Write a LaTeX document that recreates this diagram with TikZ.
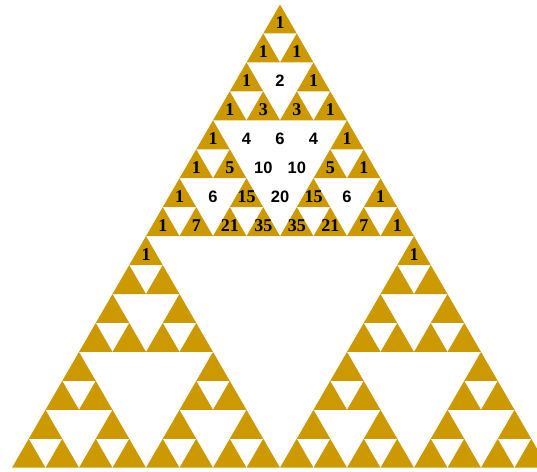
\documentclass[tikz,border=0pt]{standalone}
\usepackage{fontspec}
\setmainfont{Liberation Serif}
\newfontfamily\numsans{Liberation Sans}
\definecolor{gold}{RGB}{204,153,0}
\tikzset{
  cell/.style={fill=gold},
  goldnum/.style={font=\bfseries\fontsize{18}{18}\selectfont, text=black, inner sep=0pt},
  whitenum/.style={font=\numsans\bfseries\fontsize{16.5}{16.5}\selectfont, text=black, inner sep=0pt}
}
\begin{document}
\begin{tikzpicture}[x=1pt,y=-1pt]
\useasboundingbox (0,0) rectangle (537,471);
\clip (0,0) rectangle (537,471);
\def\cw{33.5}\def\rh{28.95}\def\cx{280}\def\ty{4.5}
% Sierpinski cells (Pascal's triangle mod 2)
\foreach \n in {0,...,15}{
  \foreach \k in {0,...,\n}{
    \pgfmathtruncatemacro\odd{(1-mod(floor(\k/1),2)*(1-mod(floor(\n/1),2)))*(1-mod(floor(\k/2),2)*(1-mod(floor(\n/2),2)))*(1-mod(floor(\k/4),2)*(1-mod(floor(\n/4),2)))*(1-mod(floor(\k/8),2)*(1-mod(floor(\n/8),2)))}
    \ifnum\odd=1
      \pgfmathsetmacro\px{\cx+(\k-\n/2)*\cw}
      \pgfmathsetmacro\py{\ty+\n*\rh}
      \fill[cell] (\px,\py) -- (\px-\cw/2,\py+\rh) -- (\px+\cw/2,\py+\rh) -- cycle;
    \fi
  }
}
% numbers
\foreach \n/\vals in {0/{1},1/{1,1},2/{1,2,1},3/{1,3,3,1},4/{1,4,6,4,1},5/{1,5,10,10,5,1},6/{1,6,15,20,15,6,1},7/{1,7,21,35,35,21,7,1}}{
  \foreach \v [count=\j from 0] in \vals {
    \pgfmathsetmacro\px{\cx+(\j-\n/2)*\cw}
    \pgfmathsetmacro\py{\ty+\n*\rh+18.5}
    \ifodd\v
      \node[goldnum] (l-\n-\j) at (\px,\py) {\v};
    \else
      \node[whitenum] (l-\n-\j) at (\px,\py) {\v};
    \fi
  }
}
\node[goldnum] (l-8-0) at ({\cx-4*\cw},{\ty+8*\rh+18.5}) {1};
\node[goldnum] (l-8-8) at ({\cx+4*\cw},{\ty+8*\rh+18.5}) {1};
\end{tikzpicture}
\end{document}
